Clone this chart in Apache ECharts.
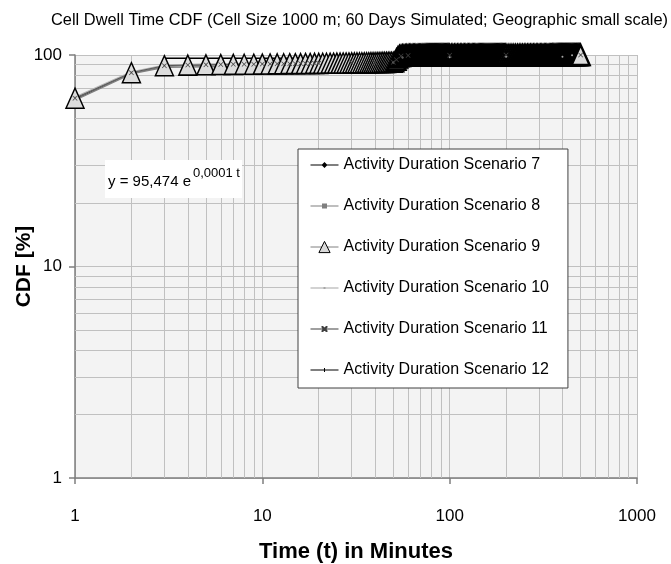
<!DOCTYPE html>
<html>
<head>
<meta charset="utf-8">
<script src="https://cdn.jsdelivr.net/npm/echarts@6/dist/echarts.min.js"></script>
<style>
  html, body { margin: 0; padding: 0; background: #fff; }
  #cdfChart { width: 671px; height: 564px; }
</style>
</head>
<body>
<div id="cdfChart"></div>
<script>
// minutes / CDF [%]
var s9Minutes = [
  1, 2, 3, 4, 5, 6, 7, 8, 9, 10, 11, 12, 13, 14, 15, 16, 17, 18, 19, 20,
  21, 22, 23, 24, 25, 26, 27, 28, 29, 30, 31, 32, 33, 34, 35, 36, 37, 38, 39, 40,
  41, 42, 43, 44, 45, 46, 47, 48, 49, 50, 51, 52, 53, 54, 55, 56, 57, 58, 59, 60,
  61, 62, 63, 64, 65, 66, 67, 68, 69, 70, 71, 72, 73, 74, 75, 76, 77, 78, 79, 80,
  81, 82, 83, 84, 85, 86, 87, 88, 89, 90, 91, 92, 93, 94, 95, 96, 97, 98, 99, 100,
  102, 104, 106, 108, 110, 112, 114, 116, 118, 120, 122, 124, 126, 128, 130, 132, 134, 136, 138, 140,
  142, 144, 146, 148, 150, 152, 154, 156, 158, 160, 162, 164, 166, 168, 170, 172, 174, 176, 178, 180,
  182, 184, 186, 188, 190, 192, 194, 196, 198, 200,
  205, 210, 215, 220, 225, 230, 235, 240, 245, 250, 255, 260, 265, 270, 275, 280, 285, 290, 295, 300,
  305, 310, 315, 320, 325, 330, 335, 340, 345, 350, 355, 360, 365, 370, 375, 380, 385, 390, 395, 400,
  405, 410, 415, 420, 425, 430, 435, 440, 445, 450, 455, 460, 465, 470, 475, 480, 485, 490, 495, 500
];
var s9Cdf = [
  62.5, 82.5, 89.0, 89.6, 89.9, 90.1, 90.3, 90.4, 90.5, 90.6, 90.7, 90.8, 90.9, 91.0, 91.0, 91.1, 91.2, 91.2, 91.3, 91.3,
  91.4, 91.4, 91.5, 91.5, 91.6, 91.6, 91.7, 91.7, 91.7, 91.8, 91.8, 91.9, 91.9, 91.9, 92.0, 92.0, 92.0, 92.1, 92.1, 92.1,
  92.2, 92.2, 92.2, 92.3, 92.3, 92.3, 92.4, 92.4, 92.4, 92.5, 93.0, 95.0, 97.4, 98.6, 99.0, 99.2, 99.3, 99.3, 99.4, 99.4,
  99.4, 99.5, 99.5, 99.5, 99.5, 99.6, 99.6, 99.6, 99.6, 99.6, 99.6, 99.7, 99.7, 99.7, 99.7, 99.7, 99.7, 99.7, 99.7, 99.7,
  99.7, 99.7, 99.8, 99.8, 99.8, 99.8, 99.8, 99.8, 99.8, 99.8, 99.8, 99.8, 99.8, 99.8, 99.8, 99.8, 99.8, 99.8, 99.8, 99.8,
  99.8, 99.8, 99.8, 99.8, 99.8, 99.8, 99.8, 99.8, 99.8, 99.8, 99.9, 99.9, 99.9, 99.9, 99.9, 99.9, 99.9, 99.9, 99.9, 99.9,
  99.9, 99.9, 99.9, 99.9, 99.9, 99.9, 99.9, 99.9, 99.9, 99.9, 99.9, 99.9, 99.9, 99.9, 99.9, 99.9, 99.9, 99.9, 99.9, 99.9,
  99.9, 99.9, 99.9, 99.9, 99.9, 99.9, 99.9, 99.9, 99.9, 99.9,
  99.9, 99.9, 99.9, 99.9, 99.9, 99.9, 99.9, 99.9, 99.9, 99.9, 99.9, 99.9, 99.9, 99.9, 99.9, 99.9, 99.9, 99.9, 99.9, 99.9,
  99.9, 99.9, 99.9, 99.9, 99.9, 99.9, 99.9, 99.9, 99.9, 99.9, 100, 100, 100, 100, 100, 100, 100, 100, 100, 100,
  100, 100, 100, 100, 100, 100, 100, 100, 100, 100, 100, 100, 100, 100, 100, 100, 100, 100, 100, 100
];

var s7Minutes = [1, 2, 3, 5, 10, 20, 50, 53, 100, 200, 500];
var s7Cdf = [61.8, 82.0, 88.7, 89.8, 90.5, 91.2, 92.3, 98.5, 99.6, 99.8, 100];

var s8Minutes = [1, 2, 3, 5, 10, 20, 40, 58, 60, 100, 200, 500];
var s8Cdf = [61.2, 81.5, 87.6, 88.0, 88.3, 88.5, 88.2, 87.6, 96.0, 96.6, 97.0, 100];

var s10Minutes = [1, 2, 3, 5, 10, 20, 50, 56, 100, 200, 400, 450, 500];
var s10Cdf = [63.2, 83.2, 89.4, 90.6, 91.0, 91.5, 92.2, 97.2, 97.6, 98.0, 98.2, 99.6, 100];

var s11Minutes = [1, 2, 3, 4, 5, 6, 7, 8, 9, 10, 11, 12, 13, 14, 15, 16, 17, 18, 19, 20, 30, 40, 50, 52, 55, 60, 100, 200, 500];
var s11Cdf = [62.5, 82.5, 89.0, 89.6, 89.9, 90.1, 90.3, 90.4, 90.5, 90.6, 90.7, 90.8, 90.9, 91.0, 91.0, 91.1, 91.2, 91.2, 91.3, 91.3, 91.8, 92.1, 92.5, 95.0, 99.0, 99.4, 99.8, 99.9, 100];

var s12Minutes = [3, 10, 30, 52, 55, 100, 500];
var s12Cdf = [96.4, 96.5, 96.7, 97.0, 99.8, 99.9, 100];

var seriesNames = [
  'Activity Duration Scenario 7', 'Activity Duration Scenario 8', 'Activity Duration Scenario 9',
  'Activity Duration Scenario 10', 'Activity Duration Scenario 11', 'Activity Duration Scenario 12'
];

// log grid lines between the decades
var xMinor = [2, 3, 4, 5, 6, 7, 8, 9, 20, 30, 40, 50, 60, 70, 80, 90, 200, 300, 400, 500, 600, 700, 800, 900];
var yMinor = [2, 3, 4, 5, 6, 7, 8, 9, 20, 30, 40, 50, 60, 70, 80, 90];

var FONT = '"Liberation Sans", Arial, sans-serif';

function pairs(xs, ys) {
  return xs.map(function (x, i) { return [x, ys[i]]; });
}

// where the triangles pile up (t >= 52) their outlines merge into a black band
function triangles(xs, ys) {
  return pairs(xs, ys).map(function (p) {
    return p[0] >= 52 ? { value: p, itemStyle: { borderWidth: 2.5 } } : p;
  });
}

// legend icons: short line with the small marker in the middle (28 x 14 box)
var LINE = 'M0,0L0,0M28,14L28,14M0,6.5L28,6.5L28,7.5L0,7.5Z';
var icon7 = 'path://' + LINE + 'M14,4L17,7L14,10L11,7Z';
var icon8 = 'path://' + LINE + 'M11.5,4.5L16.5,4.5L16.5,9.5L11.5,9.5Z';
var icon10 = 'path://' + LINE + 'M13,6L15,6L15,8L13,8Z';
var icon11 = 'path://' + LINE + 'M11,4L12.5,4L17,8.5L17,10L15.5,10L11,5.5ZM15.5,4L17,4L17,5.5L12.5,10L11,10L11,8.5Z';
var icon12 = 'path://' + LINE + 'M13.5,5L14.5,5L14.5,9L13.5,9Z';

var myChart = echarts.init(document.getElementById('cdfChart'));

var option = {
  animation: false,
  textStyle: { fontFamily: FONT },
  title: {
    text: 'Cell Dwell Time CDF (Cell Size 1000 m; 60 Days Simulated; Geographic small scale)',
    left: 46,
    top: 7,
    textStyle: { fontSize: 16.4, fontWeight: 'normal', color: '#000', fontFamily: FONT }
  },
  legend: {
    orient: 'vertical',
    left: 298,
    top: 149,
    z: 20,
    padding: [8, 19, 10, 12],
    itemGap: 25,
    itemWidth: 28,
    itemHeight: 14,
    selectedMode: false,
    backgroundColor: '#fff',
    borderColor: '#404040',
    borderWidth: 1,
    textStyle: { fontSize: 16, color: '#000', fontFamily: FONT },
    data: [
      { name: seriesNames[0], icon: icon7, itemStyle: { color: '#000', borderWidth: 0 } },
      { name: seriesNames[1], icon: icon8, itemStyle: { color: '#7f7f7f', borderWidth: 0 } },
      { name: seriesNames[2], itemStyle: { color: '#d9d9d9', borderColor: '#000', borderWidth: 1 },
        lineStyle: { color: '#808080', width: 1 } },
      { name: seriesNames[3], icon: icon10, itemStyle: { color: '#a6a6a6', borderWidth: 0 } },
      { name: seriesNames[4], icon: icon11, itemStyle: { color: '#404040', borderWidth: 0 } },
      { name: seriesNames[5], icon: icon12, itemStyle: { color: '#000', borderWidth: 0 } }
    ]
  },
  grid: {
    left: 75,
    right: 34,
    top: 55,
    bottom: 86,
    show: true,
    backgroundColor: '#f3f3f3',
    borderWidth: 0,
    outerBoundsMode: 'none'
  },
  graphic: [
    { type: 'rect', shape: { x: 105, y: 160, width: 137, height: 38 }, style: { fill: '#fff' }, z: 50 },
    { type: 'text', x: 108, y: 182, z: 51,
      style: { text: 'y = 95,474 e', fontSize: 15, fontFamily: FONT, fill: '#000', verticalAlign: 'middle' } },
    { type: 'text', x: 193, y: 173, z: 51,
      style: { text: '0,0001 t', fontSize: 13, fontFamily: FONT, fill: '#000', verticalAlign: 'middle' } }
  ],
  xAxis: {
    type: 'log',
    logBase: 10,
    min: 1,
    max: 1000,
    name: 'Time (t) in Minutes',
    nameLocation: 'middle',
    nameGap: 63,
    nameMoveOverlap: false,
    nameTextStyle: { fontSize: 22, fontWeight: 'bold', color: '#000', fontFamily: FONT },
    axisLine: { onZero: false, lineStyle: { color: '#7f7f7f', width: 1.5 } },
    axisTick: { show: true, inside: false, length: 6, lineStyle: { color: '#7f7f7f', width: 1.5 } },
    axisLabel: {
      fontSize: 17, color: '#000', margin: 30, fontFamily: FONT,
      formatter: function (v) { return String(v); }
    },
    splitLine: { show: true, lineStyle: { color: '#c0c0c0', width: 1 } },
    minorTick: { show: false },
    minorSplitLine: { show: false }
  },
  yAxis: {
    type: 'log',
    logBase: 10,
    min: 1,
    max: 100,
    name: 'CDF [%]',
    nameLocation: 'middle',
    nameGap: 40,
    nameMoveOverlap: false,
    nameTextStyle: { fontSize: 21, fontWeight: 'bold', color: '#000', fontFamily: FONT },
    axisLine: { show: true, onZero: false, lineStyle: { color: '#7f7f7f', width: 1.5 } },
    axisTick: { show: true, inside: false, length: 6, lineStyle: { color: '#7f7f7f', width: 1.5 } },
    axisLabel: {
      fontSize: 17, color: '#000', margin: 13, fontFamily: FONT,
      formatter: function (v) { return String(v); }
    },
    splitLine: { show: true, lineStyle: { color: '#c0c0c0', width: 1 } },
    minorTick: { show: false },
    minorSplitLine: { show: false }
  },
  series: [
    {
      name: 'grid-lines',
      type: 'line',
      data: [],
      silent: true,
      z: 1,
      markLine: {
        silent: true,
        z: 1,
        symbol: ['none', 'none'],
        label: { show: false },
        lineStyle: { color: '#c0c0c0', width: 1, type: 'solid' },
        emphasis: { disabled: true },
        data: xMinor.map(function (v) { return { xAxis: v }; })
          .concat(yMinor.map(function (v) { return { yAxis: v }; }))
      }
    },
    {
      name: seriesNames[0], type: 'line', clip: false,
      symbol: 'diamond', symbolSize: 6,
      itemStyle: { color: '#000' },
      lineStyle: { color: '#000', width: 1 },
      emphasis: { disabled: true },
      data: pairs(s7Minutes, s7Cdf)
    },
    {
      name: seriesNames[1], type: 'line', clip: false,
      symbol: 'rect', symbolSize: 5,
      itemStyle: { color: '#7f7f7f' },
      lineStyle: { color: '#7f7f7f', width: 1.5 },
      emphasis: { disabled: true },
      data: pairs(s8Minutes, s8Cdf)
    },
    {
      name: seriesNames[2], type: 'line', clip: false,
      symbol: 'triangle', symbolSize: [18, 20],
      itemStyle: { color: '#dcdcdc', borderColor: '#000', borderWidth: 1.5 },
      lineStyle: { color: '#808080', width: 1.5 },
      emphasis: { disabled: true },
      data: triangles(s9Minutes, s9Cdf)
    },
    {
      name: seriesNames[3], type: 'line', clip: false,
      symbol: 'circle', symbolSize: 2,
      itemStyle: { color: '#a6a6a6' },
      lineStyle: { color: '#b3b3b3', width: 1.5 },
      emphasis: { disabled: true },
      data: pairs(s10Minutes, s10Cdf)
    },
    {
      name: seriesNames[4], type: 'line', clip: false,
      symbol: 'path://M0,1L1,0L5,4L9,0L10,1L6,5L10,9L9,10L5,6L1,10L0,9L4,5Z', symbolSize: 5,
      itemStyle: { color: '#404040' },
      lineStyle: { color: '#595959', width: 1 },
      emphasis: { disabled: true },
      data: pairs(s11Minutes, s11Cdf)
    },
    {
      name: seriesNames[5], type: 'line', clip: false,
      symbol: 'none',
      itemStyle: { color: '#000' },
      lineStyle: { color: '#000', width: 1.5 },
      emphasis: { disabled: true },
      data: pairs(s12Minutes, s12Cdf)
    }
  ]
};

myChart.setOption(option);

window.addEventListener('resize', function () {
  myChart.resize();
});
</script>
</body>
</html>
